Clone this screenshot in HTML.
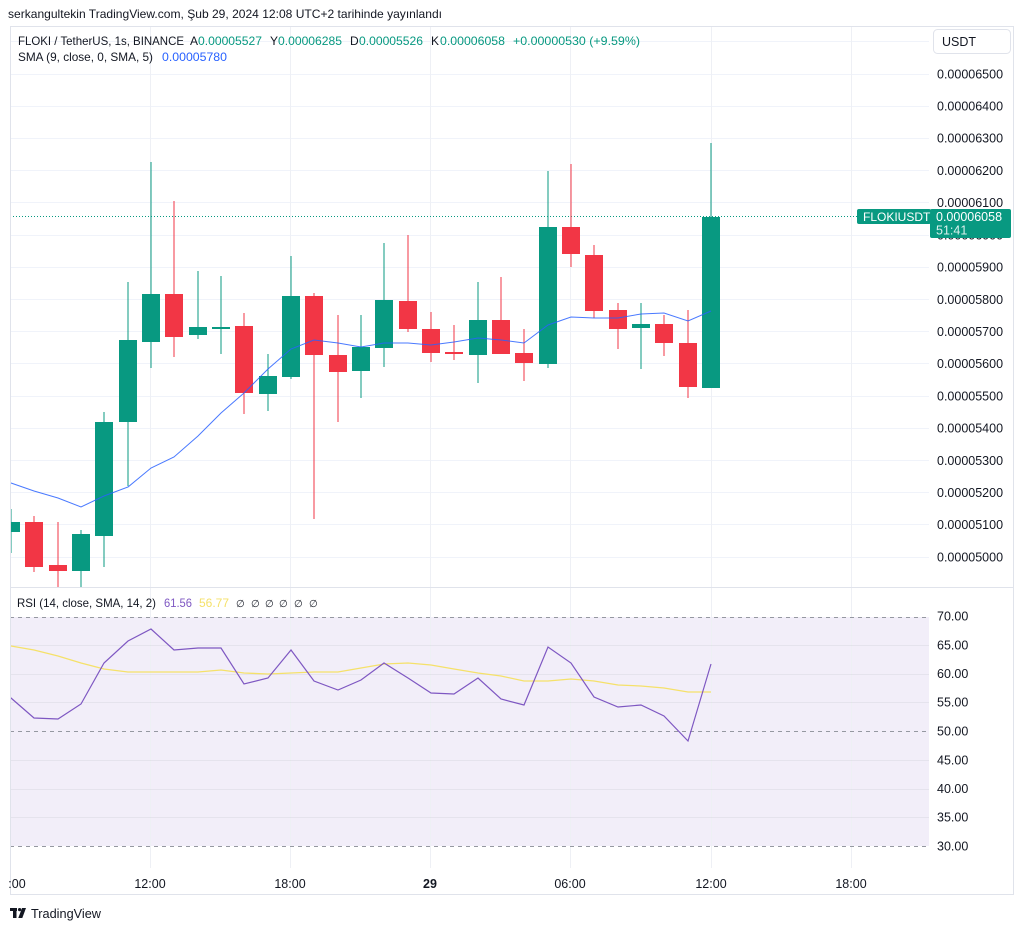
<!DOCTYPE html>
<html>
<head>
<meta charset="utf-8">
<style>
html,body{margin:0;padding:0;background:#fff;}
body{width:1024px;height:930px;overflow:hidden;position:relative;}
svg{position:absolute;left:0;top:0;}
text{font-family:"Liberation Sans","DejaVu Sans",sans-serif;}
</style>
</head>
<body>
<svg width="1024" height="930" viewBox="0 0 1024 930" xmlns="http://www.w3.org/2000/svg">
<defs>
<clipPath id="mainClip"><rect x="10" y="26" width="919" height="561"/></clipPath>
<clipPath id="rsiClip"><rect x="10" y="588" width="919" height="280"/></clipPath>
<clipPath id="timeClip"><rect x="8" y="868" width="1005" height="26"/></clipPath>
</defs>

<!-- header -->
<text x="8" y="18" font-size="12" fill="#131722" textLength="434" lengthAdjust="spacingAndGlyphs">serkangultekin TradingView.com, Şub 29, 2024 12:08 UTC+2 tarihinde yayınlandı</text>

<!-- RSI background band -->
<rect x="10" y="617" width="919" height="229" fill="#7e57c2" fill-opacity="0.1"/>

<!-- main grid horizontal -->
<g stroke="#f0f3fa" stroke-width="1">
<line x1="10" x2="929" y1="41.5" y2="41.5"/>
<line x1="10" x2="929" y1="74.5" y2="74.5"/>
<line x1="10" x2="929" y1="106.5" y2="106.5"/>
<line x1="10" x2="929" y1="138.5" y2="138.5"/>
<line x1="10" x2="929" y1="170.5" y2="170.5"/>
<line x1="10" x2="929" y1="202.5" y2="202.5"/>
<line x1="10" x2="929" y1="235.5" y2="235.5"/>
<line x1="10" x2="929" y1="267.5" y2="267.5"/>
<line x1="10" x2="929" y1="299.5" y2="299.5"/>
<line x1="10" x2="929" y1="331.5" y2="331.5"/>
<line x1="10" x2="929" y1="363.5" y2="363.5"/>
<line x1="10" x2="929" y1="396.5" y2="396.5"/>
<line x1="10" x2="929" y1="428.5" y2="428.5"/>
<line x1="10" x2="929" y1="460.5" y2="460.5"/>
<line x1="10" x2="929" y1="492.5" y2="492.5"/>
<line x1="10" x2="929" y1="524.5" y2="524.5"/>
<line x1="10" x2="929" y1="557.5" y2="557.5"/>
</g>
<!-- vertical grid -->
<g stroke="#eef0f5" stroke-width="1">
<line x1="150.5" x2="150.5" y1="26" y2="868"/>
<line x1="290.5" x2="290.5" y1="26" y2="868"/>
<line x1="430.5" x2="430.5" y1="26" y2="868"/>
<line x1="570.5" x2="570.5" y1="26" y2="868"/>
<line x1="711.5" x2="711.5" y1="26" y2="868"/>
<line x1="851.5" x2="851.5" y1="26" y2="868"/>
</g>
<!-- RSI grid -->
<g stroke="#2a2e39" stroke-opacity="0.06" stroke-width="1">
<line x1="10" x2="929" y1="645.5" y2="645.5"/>
<line x1="10" x2="929" y1="674.5" y2="674.5"/>
<line x1="10" x2="929" y1="702.5" y2="702.5"/>
<line x1="10" x2="929" y1="760.5" y2="760.5"/>
<line x1="10" x2="929" y1="789.5" y2="789.5"/>
<line x1="10" x2="929" y1="817.5" y2="817.5"/>
</g>
<g stroke="#9598a1" stroke-width="1" stroke-dasharray="4,4">
<line x1="10" x2="929" y1="617.5" y2="617.5"/>
<line x1="10" x2="929" y1="731.5" y2="731.5"/>
<line x1="10" x2="929" y1="846.5" y2="846.5"/>
</g>

<!-- last price dotted line -->
<line x1="10" x2="858" y1="216.5" y2="216.5" stroke="#089981" stroke-width="1" stroke-dasharray="1,2"/>

<!-- candles -->
<g clip-path="url(#mainClip)">
<g fill="#089981">
<rect x="10.5" y="509" width="1" height="44"/><rect x="2" y="522" width="18" height="10"/>
<rect x="80.5" y="530" width="1" height="57"/><rect x="72" y="534" width="18" height="37"/>
<rect x="103.5" y="412" width="1" height="155"/><rect x="95" y="422" width="18" height="114"/>
<rect x="127.5" y="282" width="1" height="204"/><rect x="119" y="340" width="18" height="82"/>
<rect x="150.5" y="162" width="1" height="206"/><rect x="142" y="294" width="18" height="48"/>
<rect x="197.5" y="271" width="1" height="68"/><rect x="189" y="327" width="18" height="8"/>
<rect x="220.5" y="276" width="1" height="78"/><rect x="212" y="327" width="18" height="2"/>
<rect x="267.5" y="354" width="1" height="57"/><rect x="259" y="376" width="18" height="18"/>
<rect x="290.5" y="256" width="1" height="123"/><rect x="282" y="296" width="18" height="81"/>
<rect x="360.5" y="315" width="1" height="83"/><rect x="352" y="347" width="18" height="24"/>
<rect x="383.5" y="243" width="1" height="124"/><rect x="375" y="300" width="18" height="48"/>
<rect x="477.5" y="282" width="1" height="101"/><rect x="469" y="320" width="18" height="35"/>
<rect x="547.5" y="171" width="1" height="197"/><rect x="539" y="227" width="18" height="137"/>
<rect x="640.5" y="303" width="1" height="66"/><rect x="632" y="324" width="18" height="4"/>
<rect x="710.5" y="143" width="1" height="245"/><rect x="702" y="217" width="18" height="171"/>
</g>
<g fill="#f23645">
<rect x="33.5" y="516" width="1" height="56"/><rect x="25" y="522" width="18" height="45"/>
<rect x="57.5" y="522" width="1" height="65"/><rect x="49" y="565" width="18" height="6"/>
<rect x="173.5" y="201" width="1" height="156"/><rect x="165" y="294" width="18" height="43"/>
<rect x="243.5" y="313" width="1" height="101"/><rect x="235" y="326" width="18" height="67"/>
<rect x="313.5" y="293" width="1" height="226"/><rect x="305" y="296" width="18" height="59"/>
<rect x="337.5" y="315" width="1" height="107"/><rect x="329" y="355" width="18" height="17"/>
<rect x="407.5" y="235" width="1" height="97"/><rect x="399" y="301" width="18" height="28"/>
<rect x="430.5" y="312" width="1" height="50"/><rect x="422" y="329" width="18" height="24"/>
<rect x="453.5" y="325" width="1" height="35"/><rect x="445" y="352" width="18" height="2"/>
<rect x="500.5" y="277" width="1" height="77"/><rect x="492" y="320" width="18" height="34"/>
<rect x="523.5" y="329" width="1" height="52"/><rect x="515" y="353" width="18" height="10"/>
<rect x="570.5" y="164" width="1" height="103"/><rect x="562" y="227" width="18" height="27"/>
<rect x="593.5" y="245" width="1" height="73"/><rect x="585" y="255" width="18" height="56"/>
<rect x="617.5" y="303" width="1" height="46"/><rect x="609" y="310" width="18" height="19"/>
<rect x="663.5" y="315" width="1" height="41"/><rect x="655" y="324" width="18" height="19"/>
<rect x="687.5" y="310" width="1" height="88"/><rect x="679" y="343" width="18" height="44"/>
</g>
<polyline fill="none" stroke="#2962ff" stroke-width="1" stroke-opacity="0.85" points="0,479 11,483 34,491 58,498 81,507 104,496 128,487 151,468 174,457 198,436 221,413 244,393 268,369 291,349 314,340 338,343 361,347 384,343 408,343 431,345 454,342 478,338 501,340 524,343 548,325 571,317 594,318 618,318 641,314 664,313 688,321 711,311"/>
</g>

<!-- RSI lines -->
<g clip-path="url(#rsiClip)">
<polyline fill="none" stroke="#f5e16a" stroke-width="1.3" points="0,644 11,646 34,650 58,656 81,663 104,669 128,672 151,672 174,672 198,672 221,670 244,673 268,674 291,673 314,672 338,672 361,668 384,664 408,663 431,665 454,669 478,673 501,676 524,681 548,681 571,679 594,681 618,685 641,686 664,688 688,692 711,692"/>
<polyline fill="none" stroke="#7e57c2" stroke-width="1.2" points="0,690 11,698 34,718 58,719 81,704 104,663 128,641 151,629 174,650 198,648 221,648 244,684 268,678 291,650 314,681 338,690 361,680 384,663 408,678 431,693 454,694 478,678 501,699 524,705 548,647 571,663 594,697 618,707 641,705 664,716 688,741 711,664"/>
</g>

<!-- frame and separators -->
<rect x="10.5" y="26.5" width="1003" height="868" fill="none" stroke="#e0e3eb" stroke-width="1"/>
<line x1="10" x2="1014" y1="587.5" y2="587.5" stroke="#e0e3eb" stroke-width="1"/>

<!-- legend -->
<g font-size="12">
<text x="18" y="45" fill="#131722" textLength="166" lengthAdjust="spacingAndGlyphs">FLOKI / TetherUS, 1s, BINANCE</text>
<text x="190" y="45" fill="#131722">A</text>
<text x="198" y="45" fill="#089981" textLength="64" lengthAdjust="spacingAndGlyphs">0.00005527</text>
<text x="270" y="45" fill="#131722">Y</text>
<text x="278" y="45" fill="#089981" textLength="64" lengthAdjust="spacingAndGlyphs">0.00006285</text>
<text x="350" y="45" fill="#131722">D</text>
<text x="359" y="45" fill="#089981" textLength="64" lengthAdjust="spacingAndGlyphs">0.00005526</text>
<text x="431" y="45" fill="#131722">K</text>
<text x="440" y="45" fill="#089981" textLength="65" lengthAdjust="spacingAndGlyphs">0.00006058</text>
<text x="513" y="45" fill="#089981" textLength="127" lengthAdjust="spacingAndGlyphs">+0.00000530 (+9.59%)</text>
<text x="18" y="61" fill="#131722" textLength="135" lengthAdjust="spacingAndGlyphs">SMA (9, close, 0, SMA, 5)</text>
<text x="162" y="61" fill="#2962ff" textLength="65" lengthAdjust="spacingAndGlyphs">0.00005780</text>
<text x="17" y="607" fill="#131722" textLength="139" lengthAdjust="spacingAndGlyphs">RSI (14, close, SMA, 14, 2)</text>
<text x="164" y="607" fill="#7e57c2" textLength="28" lengthAdjust="spacingAndGlyphs">61.56</text>
<text x="199" y="607" fill="#f5e16a" textLength="30" lengthAdjust="spacingAndGlyphs">56.77</text>
</g>
<g font-size="10" fill="#131722" font-family="DejaVu Sans, sans-serif">
<text x="236" y="607">∅</text><text x="251" y="607">∅</text><text x="265" y="607">∅</text><text x="279" y="607">∅</text><text x="294" y="607">∅</text><text x="309" y="607">∅</text>
</g>

<!-- USDT box -->
<rect x="933.5" y="29.5" width="77" height="24" rx="4" fill="#fff" stroke="#e0e3eb"/>
<text x="942" y="46" font-size="12.5" fill="#131722">USDT</text>

<!-- price axis labels -->
<g font-size="12.5" fill="#131722">
<text x="937" y="78.5">0.00006500</text>
<text x="937" y="110.5">0.00006400</text>
<text x="937" y="142.5">0.00006300</text>
<text x="937" y="175">0.00006200</text>
<text x="937" y="207">0.00006100</text>
<text x="937" y="239.5">0.00006000</text>
<text x="937" y="271.5">0.00005900</text>
<text x="937" y="304">0.00005800</text>
<text x="937" y="336">0.00005700</text>
<text x="937" y="368">0.00005600</text>
<text x="937" y="400.5">0.00005500</text>
<text x="937" y="432.5">0.00005400</text>
<text x="937" y="465">0.00005300</text>
<text x="937" y="497">0.00005200</text>
<text x="937" y="529">0.00005100</text>
<text x="937" y="561.5">0.00005000</text>
</g>

<!-- last price label -->
<rect x="857" y="209" width="74" height="15" rx="2" fill="#089981"/>
<rect x="930" y="209" width="81" height="29" rx="2" fill="#089981"/>
<text x="863" y="221" font-size="12" fill="#fff">FLOKIUSDT</text>
<text x="936" y="221" font-size="12.5" fill="#fff">0.00006058</text>
<text x="936" y="234.5" font-size="12.5" fill="#fff" fill-opacity="0.85">51:41</text>

<!-- RSI axis labels -->
<g font-size="12.5" fill="#131722">
<text x="937" y="620.5">70.00</text>
<text x="937" y="649.5">65.00</text>
<text x="937" y="678">60.00</text>
<text x="937" y="706.5">55.00</text>
<text x="937" y="735.5">50.00</text>
<text x="937" y="764.5">45.00</text>
<text x="937" y="793">40.00</text>
<text x="937" y="821.5">35.00</text>
<text x="937" y="850.5">30.00</text>
</g>

<!-- time axis -->
<g font-size="12.5" fill="#131722" text-anchor="middle" clip-path="url(#timeClip)">
<text x="10" y="888">06:00</text>
<text x="150" y="888">12:00</text>
<text x="290" y="888">18:00</text>
<text x="430" y="888" font-weight="bold">29</text>
<text x="570" y="888">06:00</text>
<text x="711" y="888">12:00</text>
<text x="851" y="888">18:00</text>
</g>

<!-- TradingView logo -->
<g fill="#131722">
<rect x="10" y="908" width="7" height="3"/>
<rect x="13" y="908" width="3.5" height="10"/>
<circle cx="19.6" cy="909.6" r="1.6"/>
<polygon points="22,908 26,908 22.3,918 18.3,918"/>
</g>
<text x="31" y="918" font-size="12.5" fill="#131722" textLength="70" lengthAdjust="spacingAndGlyphs">TradingView</text>
</svg>
</body>
</html>
